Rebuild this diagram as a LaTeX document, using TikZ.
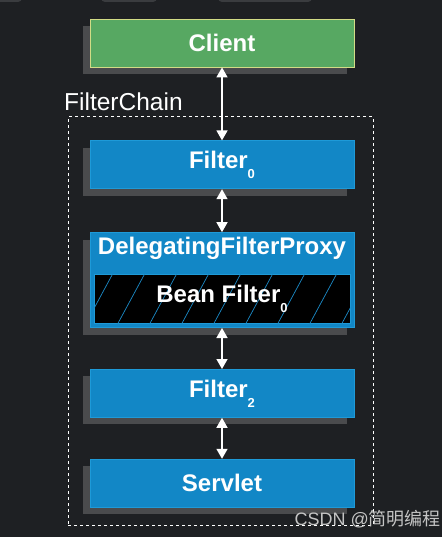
\documentclass[tikz,border=0pt]{standalone}
\usepackage{fontspec}
\setmainfont{Liberation Sans}
\newfontfamily\cjkfont{Noto Sans CJK SC}
\usetikzlibrary{positioning, arrows.meta, shadows, calc}

\definecolor{bgdark}{HTML}{1E2023}
\definecolor{tabgray}{HTML}{3A3C3F}
\definecolor{shadowgray}{HTML}{4A4B4D}
\definecolor{stageblue}{HTML}{1287C6}
\definecolor{stageedge}{HTML}{1E9AD8}
\definecolor{clientgreen}{HTML}{57A862}
\definecolor{clientedge}{HTML}{D2DC86}
\definecolor{hatchblue}{HTML}{1B8BC8}
\definecolor{markgray}{HTML}{C4C4C4}

\newcommand{\lowidx}[1]{\raisebox{-0.42em}{\fontsize{13}{13}\selectfont #1}}

\begin{document}
\begin{tikzpicture}[
			x=1pt, y=-1pt,
			node distance=41pt,
			stage/.style={rectangle, draw=stageedge, line width=0.8pt, fill=stageblue, minimum width=264pt, minimum height=48pt, inner sep=0pt, text=white, font=\fontsize{24}{28}\selectfont\bfseries, general shadow={fill=shadowgray, shadow xshift=-7pt, shadow yshift=-7pt}},
			client/.style={stage, fill=clientgreen, draw=clientedge},
			beanbox/.style={rectangle, draw=stageedge, line width=0.8pt, fill=black, minimum width=256pt, minimum height=49pt, inner sep=0pt},
			link/.style={{Triangle[width=11pt,length=10pt]}-{Triangle[width=11pt,length=10pt]}, line width=1.5pt, draw=white},
			hatch/.style={draw=hatchblue, line width=0.7pt}
			]
			\useasboundingbox[fill=bgdark] (0,0) rectangle (442,537);
			
			% cut-off tabs at the top edge
			\fill[tabgray, rounded corners=4pt] (-10,-10) rectangle (22,2);
			\fill[tabgray, rounded corners=4pt] (101,-10) rectangle (157,2);
			\fill[tabgray, rounded corners=4pt] (218,-10) rectangle (312,2);
			
			\node[client] (client) at (222,43) {Client};
			\node[stage] (filter0) [below=73pt of client] {Filter\lowidx{0}};
			\node[stage, minimum height=95pt] (proxy) [below=43pt of filter0] {};
			\node[text=white, font=\fontsize{24}{28}\selectfont\bfseries, inner sep=0pt] (proxytitle) [below=5pt of proxy.north] {DelegatingFilterProxy};
			\node[beanbox] (bean) [above=4pt of proxy.south] {};
			\node[stage] (filter2) [below=41pt of proxy] {Filter\lowidx{2}};
			\node[stage] (servlet) [below=41pt of filter2] {Servlet};
			
			% hatching of the bean
			\begin{scope}
				\clip (bean.south west) rectangle (bean.north east);
				\foreach \i in {-40,-8,...,280}
				\draw[hatch] ($(bean.south west)+(\i,0)$) -- ++(27,-50);
			\end{scope}
			\node[text=white, font=\fontsize{24}{28}\selectfont\bfseries] (beanlabel) at (bean) {Bean Filter\lowidx{0}};
			
			% the chain
			\node[draw=white, dashed, dash pattern=on 3pt off 3pt, line width=1pt, minimum width=305pt, minimum height=408pt, inner sep=0pt] (chain) at (220.5,321) {};
			\node[text=white, font=\fontsize{24.5}{28}\selectfont, anchor=south west, inner sep=0pt] (chainlabel) at (64,111) {FilterChain};
			
			\draw[link] (client) -- (filter0);
			\draw[link] (filter0) -- (proxy);
			\draw[link] (proxy) -- (filter2);
			\draw[link] (filter2) -- (servlet);
			
			\node[text=markgray, font=\fontsize{18}{21}\selectfont, anchor=east, inner sep=0pt] (mark) at (441,519) {CSDN @{\cjkfont 简明编程}};
		\end{tikzpicture}
\end{document}
